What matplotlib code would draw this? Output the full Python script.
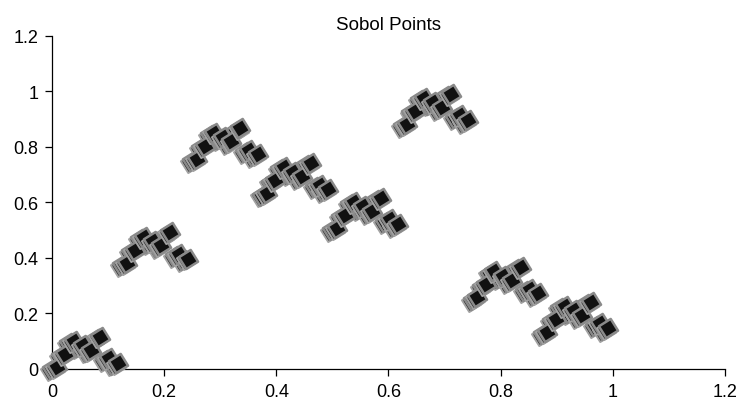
import matplotlib
matplotlib.use("Agg")
import matplotlib.pyplot as plt
from matplotlib.markers import MarkerStyle
from matplotlib.transforms import Affine2D, offset_copy

# first 64 points of the sequence (x, y)
x_first = [
    0.000, 0.016, 0.031, 0.047, 0.063, 0.078, 0.094, 0.109,
    0.125, 0.141, 0.156, 0.172, 0.188, 0.203, 0.219, 0.234,
    0.250, 0.266, 0.281, 0.297, 0.313, 0.328, 0.344, 0.359,
    0.375, 0.391, 0.406, 0.422, 0.438, 0.453, 0.469, 0.484,
    0.500, 0.516, 0.531, 0.547, 0.563, 0.578, 0.594, 0.609,
    0.625, 0.641, 0.656, 0.672, 0.688, 0.703, 0.719, 0.734,
    0.750, 0.766, 0.781, 0.797, 0.813, 0.828, 0.844, 0.859,
    0.875, 0.891, 0.906, 0.922, 0.938, 0.953, 0.969, 0.984,
]
y_first = [
    0.000, 0.047, 0.094, 0.078, 0.063, 0.109, 0.031, 0.016,
    0.375, 0.422, 0.469, 0.453, 0.438, 0.484, 0.406, 0.391,
    0.750, 0.797, 0.844, 0.828, 0.813, 0.859, 0.781, 0.766,
    0.625, 0.672, 0.719, 0.703, 0.688, 0.734, 0.656, 0.641,
    0.500, 0.547, 0.594, 0.578, 0.563, 0.609, 0.531, 0.516,
    0.875, 0.922, 0.969, 0.953, 0.938, 0.984, 0.906, 0.891,
    0.250, 0.297, 0.344, 0.328, 0.313, 0.359, 0.281, 0.266,
    0.125, 0.172, 0.219, 0.203, 0.188, 0.234, 0.156, 0.141,
]
# next 64 points (x, y)
x_second = [
    0.008, 0.023, 0.039, 0.055, 0.070, 0.086, 0.102, 0.117,
    0.133, 0.148, 0.164, 0.180, 0.195, 0.211, 0.227, 0.242,
    0.258, 0.273, 0.289, 0.305, 0.320, 0.336, 0.352, 0.367,
    0.383, 0.398, 0.414, 0.430, 0.445, 0.461, 0.477, 0.492,
    0.508, 0.523, 0.539, 0.555, 0.570, 0.586, 0.602, 0.617,
    0.633, 0.648, 0.664, 0.680, 0.695, 0.711, 0.727, 0.742,
    0.758, 0.773, 0.789, 0.805, 0.820, 0.836, 0.852, 0.867,
    0.883, 0.898, 0.914, 0.930, 0.945, 0.961, 0.977, 0.992,
]
y_second = [
    0.008, 0.055, 0.102, 0.086, 0.070, 0.117, 0.039, 0.023,
    0.383, 0.430, 0.477, 0.461, 0.445, 0.492, 0.414, 0.398,
    0.758, 0.805, 0.852, 0.836, 0.820, 0.867, 0.789, 0.773,
    0.633, 0.680, 0.727, 0.711, 0.695, 0.742, 0.664, 0.648,
    0.508, 0.555, 0.602, 0.586, 0.570, 0.617, 0.539, 0.523,
    0.883, 0.930, 0.977, 0.961, 0.945, 0.992, 0.914, 0.898,
    0.258, 0.305, 0.352, 0.336, 0.320, 0.367, 0.289, 0.273,
    0.133, 0.180, 0.227, 0.211, 0.195, 0.242, 0.164, 0.148,
]
tick_vals = [0, 0.2, 0.4, 0.6, 0.8, 1.0, 1.2]
tick_labels = ["0", "0.2", "0.4", "0.6", "0.8", "1", "1.2"]

plt.rcParams["font.family"] = ["Liberation Sans", "DejaVu Sans"]

fig = plt.figure(figsize=(7.39, 4.10), dpi=100)
ax = fig.add_axes([0.0704, 0.0976, 0.9106, 0.8122])

marker = MarkerStyle("s", transform=Affine2D().rotate_deg(32))
# thin drop shadow beneath each square
shadow = offset_copy(ax.transData, fig=fig, x=-1.4, y=-1.4, units="points")

size = 100
z = 3
for px, py in zip(x_first + x_second, y_first + y_second):
    ax.scatter([px], [py], s=size, marker=marker, facecolor="#222222",
               edgecolor="#a2a2a2", linewidth=1.4, transform=shadow,
               zorder=z, clip_on=False)
    ax.scatter([px], [py], s=size, marker=marker, facecolor="#111111",
               edgecolor="#8a8a8a", linewidth=1.8, zorder=z + 1,
               clip_on=False)
    z += 2

ax.set_xlim(0, 1.2)
ax.set_ylim(0, 1.2)
ax.set_xticks(tick_vals)
ax.set_xticklabels(tick_labels)
ax.set_yticks(tick_vals)
ax.set_yticklabels(tick_labels)
ax.tick_params(direction="out", length=5, width=0.9, labelsize=13, pad=5)
for side in ("top", "right"):
    ax.spines[side].set_visible(False)
for side in ("left", "bottom"):
    ax.spines[side].set_linewidth(0.9)

ax.set_title("Sobol Points", fontsize=13.5, pad=5)

fig.savefig("out.png", dpi=100)
